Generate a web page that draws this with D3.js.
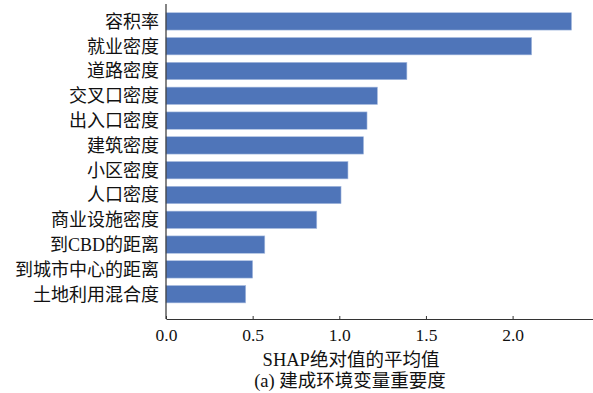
<!DOCTYPE html>
<html>
<head>
<meta charset="utf-8">
<script src="https://cdn.jsdelivr.net/npm/d3@7"></script>
<style>
  html, body { margin: 0; padding: 0; background: #fff; }
  svg text { font-family: "Liberation Serif", "Noto Sans CJK SC", serif; fill: #111; }
</style>
</head>
<body>
<svg id="chart" width="593" height="393"></svg>
<script>
// Built-environment variables, ordered by importance (mean |SHAP|)
const categories = ["容积率", "就业密度", "道路密度", "交叉口密度", "出入口密度", "建筑密度",
  "小区密度", "人口密度", "商业设施密度", "到CBD的距离", "到城市中心的距离", "土地利用混合度"];
const meanAbsShap = [2.34, 2.11, 1.39, 1.22, 1.16, 1.14, 1.05, 1.01, 0.87, 0.57, 0.50, 0.46];
const xTicks = [0.0, 0.5, 1.0, 1.5, 2.0];
const xLabel = "SHAP绝对值的平均值";
const caption = "(a) 建成环境变量重要度";

const svg = d3.select("#chart");
const plotLeft = 166, plotBottom = 319, plotTop = 4;

const x = d3.scaleLinear().domain([0, 2.5]).range([plotLeft, plotLeft + 2.5 * 173.3]);
const y = d3.scaleBand().domain(categories).range([9, 306.6])
  .paddingInner(0.3).paddingOuter(0.15);

// bars
svg.append("g").selectAll("rect")
  .data(categories)
  .join("rect")
  .attr("x", x(0))
  .attr("y", d => y(d))
  .attr("width", (d, i) => x(meanAbsShap[i]) - x(0))
  .attr("height", y.bandwidth())
  .attr("fill", "#4f75b9")
  .attr("stroke", "#a9bde0")
  .attr("stroke-width", 0.6);

// category labels
svg.append("g").selectAll("text")
  .data(categories)
  .join("text")
  .attr("x", 159)
  .attr("y", d => y(d) + y.bandwidth() / 2)
  .attr("dy", "0.36em")
  .attr("text-anchor", "end")
  .attr("font-size", 18)
  .text(d => d);

// bottom axis with inward ticks
const xAxis = d3.axisBottom(x).tickValues(xTicks).tickFormat(d3.format(".1f"))
  .tickSizeInner(-3).tickSizeOuter(0).tickPadding(10);
const gx = svg.append("g").attr("transform", `translate(0,${plotBottom})`).call(xAxis);
gx.select(".domain").attr("stroke", "#333").attr("stroke-width", 1.2);
gx.selectAll(".tick line").attr("stroke", "#333");
gx.selectAll(".tick text").attr("font-size", 17.5).attr("fill", "#111")
  .attr("font-family", "Liberation Serif, serif");

// left spine
svg.append("line")
  .attr("x1", plotLeft).attr("x2", plotLeft)
  .attr("y1", plotTop).attr("y2", plotBottom)
  .attr("stroke", "#333").attr("stroke-width", 1.2);

// axis title and caption
svg.append("text").attr("x", 351).attr("y", 366)
  .attr("text-anchor", "middle").attr("font-size", 18.5).text(xLabel);
svg.append("text").attr("x", 350).attr("y", 387)
  .attr("text-anchor", "middle").attr("font-size", 18.5).text(caption);
</script>
</body>
</html>
